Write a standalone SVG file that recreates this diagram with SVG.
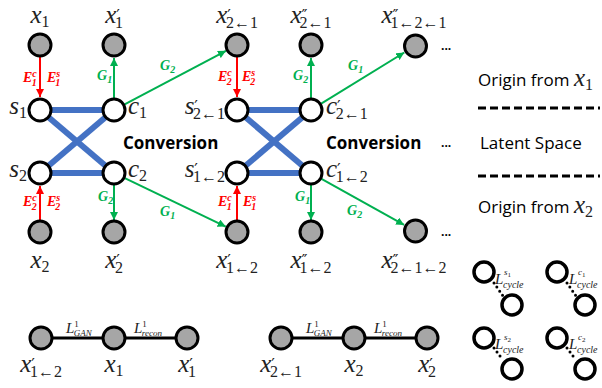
<svg xmlns="http://www.w3.org/2000/svg" width="602" height="388" viewBox="0 0 602 388">
<style>
.bg{fill:#fff}
.xn{fill:#a6a6a6;stroke:#000;stroke-width:3}
.ln{fill:#fff;stroke:#000;stroke-width:3}
.lc{fill:#fff;stroke:#000;stroke-width:3.5}
.blue{stroke:#4472c4;stroke-width:6;fill:none}
.red{stroke:#ff0000;stroke-width:2;fill:none}
.grn{stroke:#00b050;stroke-width:2;fill:none}
.blk{stroke:#000;stroke-width:3;fill:none}
.dash{stroke:#000;stroke-width:3;stroke-dasharray:8 4;fill:none}
.dot{stroke:#000;stroke-width:3;stroke-linecap:round;stroke-dasharray:0 5;fill:none}
.m{font-family:"Liberation Serif",serif;font-style:italic;font-size:25px;fill:#222}
.sb{font-style:normal;font-size:16px}
.pr{font-family:"DejaVu Sans",sans-serif;font-style:normal;font-size:16px}
.e{font-family:"Liberation Serif",serif;font-weight:bold;font-style:italic;font-size:14px}
.es{font-size:10px}
.er{fill:#ff0000}
.eg{fill:#00b050}
.cv{font-family:"Open Sans",sans-serif;font-weight:bold;font-size:17px;fill:#000}
.t{font-family:"Open Sans",sans-serif;font-size:17px;fill:#000}
.dd{font-family:"Open Sans",sans-serif;font-weight:bold;font-size:12px;fill:#000}
.L{font-family:"Liberation Serif",serif;font-style:italic;font-size:15px;fill:#222}
.Ls{font-size:10px}
.Lt{font-size:9px}
.Ld{font-size:7px;font-style:normal}
</style>
<defs>
<marker id="ar" viewBox="0 0 8 8" refX="8" refY="4" markerWidth="8" markerHeight="8" markerUnits="userSpaceOnUse" orient="auto"><path d="M0,0 L8,4 L0,8 z" fill="#ff0000"/></marker>
<marker id="ag" viewBox="0 0 8 8" refX="8" refY="4" markerWidth="8" markerHeight="8" markerUnits="userSpaceOnUse" orient="auto"><path d="M0,0 L8,4 L0,8 z" fill="#00b050"/></marker>
</defs>
<rect class="bg" width="602" height="388"/>
<g id="connectors">
<line class="blue" x1="40" y1="110" x2="114" y2="110"/>
<line class="blue" x1="40" y1="173" x2="114" y2="173"/>
<line class="blue" x1="40" y1="110" x2="114" y2="173"/>
<line class="blue" x1="40" y1="173" x2="114" y2="110"/>
<line class="blue" x1="237" y1="110" x2="311" y2="110"/>
<line class="blue" x1="237" y1="173" x2="311" y2="173"/>
<line class="blue" x1="237" y1="110" x2="311" y2="173"/>
<line class="blue" x1="237" y1="173" x2="311" y2="110"/>
<line class="red" x1="40" y1="57" x2="40" y2="97" marker-end="url(#ar)"/>
<line class="red" x1="40" y1="220" x2="40" y2="186" marker-end="url(#ar)"/>
<line class="red" x1="237" y1="57" x2="237" y2="97" marker-end="url(#ar)"/>
<line class="red" x1="237" y1="220" x2="237" y2="186" marker-end="url(#ar)"/>
<line class="grn" x1="114" y1="98" x2="114" y2="58" marker-end="url(#ag)"/>
<line class="grn" x1="114" y1="185" x2="114" y2="220" marker-end="url(#ag)"/>
<line class="grn" x1="311" y1="98" x2="311" y2="58" marker-end="url(#ag)"/>
<line class="grn" x1="311" y1="185" x2="311" y2="220" marker-end="url(#ag)"/>
<line class="grn" x1="124.6" y1="104.4" x2="226" y2="50.8" marker-end="url(#ag)"/>
<line class="grn" x1="124.8" y1="178.2" x2="225.7" y2="226.6" marker-end="url(#ag)"/>
<line class="grn" x1="321.2" y1="103.7" x2="404.3" y2="52.5" marker-end="url(#ag)"/>
<line class="grn" x1="321.5" y1="178.8" x2="404.1" y2="224.9" marker-end="url(#ag)"/>
<line class="blk" x1="41" y1="338" x2="187" y2="338"/>
<line class="blk" x1="281" y1="338" x2="427" y2="338"/>
<line class="dot" x1="494" y1="283" x2="503" y2="296"/>
<line class="dot" x1="567" y1="283" x2="576" y2="296"/>
<line class="dot" x1="494" y1="348" x2="503" y2="360"/>
<line class="dot" x1="567" y1="348" x2="576" y2="360"/>
</g>
<g id="edge-labels">
<text class="e er" x="23" y="82">E<tspan class="es" dy="-5">c</tspan><tspan class="es" dx="-5" dy="9">1</tspan></text>
<text class="e er" x="47" y="82">E<tspan class="es" dy="-5">s</tspan><tspan class="es" dx="-5" dy="9">1</tspan></text>
<text class="e eg" x="97" y="80">G<tspan class="es" dy="3">1</tspan></text>
<text class="e eg" x="160" y="70">G<tspan class="es" dy="3">2</tspan></text>
<text class="e er" x="218" y="81">E<tspan class="es" dy="-5">c</tspan><tspan class="es" dx="-5" dy="9">2</tspan></text>
<text class="e er" x="242" y="81">E<tspan class="es" dy="-5">s</tspan><tspan class="es" dx="-5" dy="9">2</tspan></text>
<text class="e eg" x="293" y="80">G<tspan class="es" dy="3">2</tspan></text>
<text class="e eg" x="348" y="70">G<tspan class="es" dy="3">1</tspan></text>
<text class="e er" x="23" y="206">E<tspan class="es" dy="-5">c</tspan><tspan class="es" dx="-5" dy="9">2</tspan></text>
<text class="e er" x="47" y="206">E<tspan class="es" dy="-5">s</tspan><tspan class="es" dx="-5" dy="9">2</tspan></text>
<text class="e eg" x="98" y="201">G<tspan class="es" dy="3">2</tspan></text>
<text class="e eg" x="160" y="216">G<tspan class="es" dy="3">1</tspan></text>
<text class="e er" x="218" y="206">E<tspan class="es" dy="-5">c</tspan><tspan class="es" dx="-5" dy="9">1</tspan></text>
<text class="e er" x="243" y="206">E<tspan class="es" dy="-5">s</tspan><tspan class="es" dx="-5" dy="9">1</tspan></text>
<text class="e eg" x="295" y="201">G<tspan class="es" dy="3">1</tspan></text>
<text class="e eg" x="347" y="215">G<tspan class="es" dy="3">2</tspan></text>
<text class="L" x="66" y="333">L<tspan class="Lt" dy="-6" font-style="normal">1</tspan><tspan class="Lt" dx="-5" dy="9">GAN</tspan></text>
<text class="L" x="134" y="333">L<tspan class="Lt" dy="-6" font-style="normal">1</tspan><tspan class="Lt" dx="-5" dy="9">recon</tspan></text>
<text class="L" x="306" y="333">L<tspan class="Lt" dy="-6" font-style="normal">1</tspan><tspan class="Lt" dx="-5" dy="9">GAN</tspan></text>
<text class="L" x="374" y="333">L<tspan class="Lt" dy="-6" font-style="normal">1</tspan><tspan class="Lt" dx="-5" dy="9">recon</tspan></text>
<text class="L" x="495" y="284">L</text><text class="L Lt" x="504" y="275">s<tspan class="Ld" dy="2">1</tspan></text><text class="L Ls" x="503" y="288">cycle</text>
<text class="L" x="569" y="284">L</text><text class="L Lt" x="578" y="275">c<tspan class="Ld" dy="2">1</tspan></text><text class="L Ls" x="577" y="288">cycle</text>
<text class="L" x="495" y="349">L</text><text class="L Lt" x="504" y="340">s<tspan class="Ld" dy="2">2</tspan></text><text class="L Ls" x="503" y="353">cycle</text>
<text class="L" x="569" y="349">L</text><text class="L Lt" x="578" y="340">c<tspan class="Ld" dy="2">2</tspan></text><text class="L Ls" x="577" y="353">cycle</text>
</g>
<g id="n-x1"><circle class="xn" cx="40" cy="45" r="11"/><text class="m" x="40" y="23" text-anchor="middle">x<tspan class="sb" dy="4">1</tspan></text></g>
<g id="n-x1p"><circle class="xn" cx="114" cy="45" r="11"/><text class="m" x="114" y="23" text-anchor="middle">x<tspan class="pr" dy="-2">′</tspan><tspan class="sb" dx="-5" dy="7">1</tspan></text></g>
<g id="n-s1"><circle class="ln" cx="40" cy="110" r="11"/><text class="m" x="27" y="114" text-anchor="end">s<tspan class="sb" dy="4">1</tspan></text></g>
<g id="n-c1"><circle class="ln" cx="114" cy="110" r="11"/><text class="m" x="128" y="114">c<tspan class="sb" dy="4">1</tspan></text></g>
<g id="n-s2"><circle class="ln" cx="40" cy="173" r="11"/><text class="m" x="27" y="177" text-anchor="end">s<tspan class="sb" dy="4">2</tspan></text></g>
<g id="n-c2"><circle class="ln" cx="114" cy="173" r="11"/><text class="m" x="128" y="177">c<tspan class="sb" dy="4">2</tspan></text></g>
<g id="n-x2"><circle class="xn" cx="40" cy="232" r="11"/><text class="m" x="40" y="268" text-anchor="middle">x<tspan class="sb" dy="4">2</tspan></text></g>
<g id="n-x2p"><circle class="xn" cx="114" cy="232" r="11"/><text class="m" x="114" y="268" text-anchor="middle">x<tspan class="pr" dy="-2">′</tspan><tspan class="sb" dx="-5" dy="7">2</tspan></text></g>
<g id="n-x21"><circle class="xn" cx="237" cy="45" r="11"/><text class="m" x="237" y="23" text-anchor="middle">x<tspan class="pr" dy="-2">′</tspan><tspan class="sb" dx="-5" dy="7">2←1</tspan></text></g>
<g id="n-x21pp"><circle class="xn" cx="311" cy="45" r="11"/><text class="m" x="311" y="23" text-anchor="middle">x<tspan class="pr" dy="-2">″</tspan><tspan class="sb" dx="-8" dy="7">2←1</tspan></text></g>
<g id="n-s21"><circle class="ln" cx="237" cy="110" r="11"/><text class="m" x="225" y="114" text-anchor="end">s<tspan class="pr" dy="-2">′</tspan><tspan class="sb" dx="-5" dy="7">2←1</tspan></text></g>
<g id="n-c21"><circle class="ln" cx="311" cy="110" r="11"/><text class="m" x="326" y="114">c<tspan class="pr" dy="-2">′</tspan><tspan class="sb" dx="-5" dy="7">2←1</tspan></text></g>
<g id="n-x121"><circle class="xn" cx="415.5" cy="46" r="11"/><text class="m" x="414" y="23" text-anchor="middle">x<tspan class="pr" dy="-2">″</tspan><tspan class="sb" dx="-8" dy="7">1←2←1</tspan></text><text class="dd" x="441" y="50">...</text></g>
<g id="n-s12"><circle class="ln" cx="237" cy="173" r="11"/><text class="m" x="225" y="177" text-anchor="end">s<tspan class="pr" dy="-2">′</tspan><tspan class="sb" dx="-5" dy="7">1←2</tspan></text></g>
<g id="n-c12"><circle class="ln" cx="311" cy="173" r="11"/><text class="m" x="326" y="177">c<tspan class="pr" dy="-2">′</tspan><tspan class="sb" dx="-5" dy="7">1←2</tspan></text></g>
<g id="n-x12"><circle class="xn" cx="237" cy="232" r="11"/><text class="m" x="237" y="268" text-anchor="middle">x<tspan class="pr" dy="-2">′</tspan><tspan class="sb" dx="-5" dy="7">1←2</tspan></text></g>
<g id="n-x12pp"><circle class="xn" cx="311" cy="232" r="11"/><text class="m" x="311" y="268" text-anchor="middle">x<tspan class="pr" dy="-2">″</tspan><tspan class="sb" dx="-8" dy="7">1←2</tspan></text></g>
<g id="n-x212"><circle class="xn" cx="415.5" cy="231" r="11"/><text class="m" x="414" y="268" text-anchor="middle">x<tspan class="pr" dy="-2">″</tspan><tspan class="sb" dx="-8" dy="7">2←1←2</tspan></text><text class="dd" x="441" y="236">...</text></g>
<text class="cv" x="123" y="149">Conversion</text>
<text class="cv" x="326" y="149">Conversion</text>
<text class="dd" x="441" y="147">...</text>
<g id="legend">
<text class="t" x="478" y="86">Origin from <tspan class="m" font-size="23">x<tspan class="sb" dy="4" font-size="15">1</tspan></tspan></text>
<line class="dash" x1="478" y1="108" x2="600" y2="108"/>
<text class="t" x="480" y="149">Latent Space</text>
<line class="dash" x1="478" y1="176" x2="600" y2="176"/>
<text class="t" x="478" y="213">Origin from <tspan class="m" font-size="23">x<tspan class="sb" dy="4" font-size="15">2</tspan></tspan></text>
</g>
<g id="bottom-a">
<circle class="xn" cx="41" cy="338" r="11"/><circle class="xn" cx="114" cy="338" r="11"/><circle class="xn" cx="187" cy="338" r="11"/>
<text class="m" x="41" y="372" text-anchor="middle">x<tspan class="pr" dy="-2">′</tspan><tspan class="sb" dx="-5" dy="7">1←2</tspan></text>
<text class="m" x="114" y="372" text-anchor="middle">x<tspan class="sb" dy="4">1</tspan></text>
<text class="m" x="187" y="372" text-anchor="middle">x<tspan class="pr" dy="-2">′</tspan><tspan class="sb" dx="-5" dy="7">1</tspan></text>
</g>
<g id="bottom-b">
<circle class="xn" cx="281" cy="338" r="11"/><circle class="xn" cx="354" cy="338" r="11"/><circle class="xn" cx="427" cy="338" r="11"/>
<text class="m" x="281" y="372" text-anchor="middle">x<tspan class="pr" dy="-2">′</tspan><tspan class="sb" dx="-5" dy="7">2←1</tspan></text>
<text class="m" x="354" y="372" text-anchor="middle">x<tspan class="sb" dy="4">2</tspan></text>
<text class="m" x="427" y="372" text-anchor="middle">x<tspan class="pr" dy="-2">′</tspan><tspan class="sb" dx="-5" dy="7">2</tspan></text>
</g>
<g id="cycle">
<circle class="lc" cx="484" cy="272" r="10"/><circle class="lc" cx="512" cy="305" r="10"/>
<circle class="lc" cx="557" cy="272" r="10"/><circle class="lc" cx="585" cy="305" r="10"/>
<circle class="lc" cx="484" cy="338" r="10"/><circle class="lc" cx="512" cy="369" r="10"/>
<circle class="lc" cx="557" cy="338" r="10"/><circle class="lc" cx="585" cy="369" r="10"/>
</g>
</svg>
